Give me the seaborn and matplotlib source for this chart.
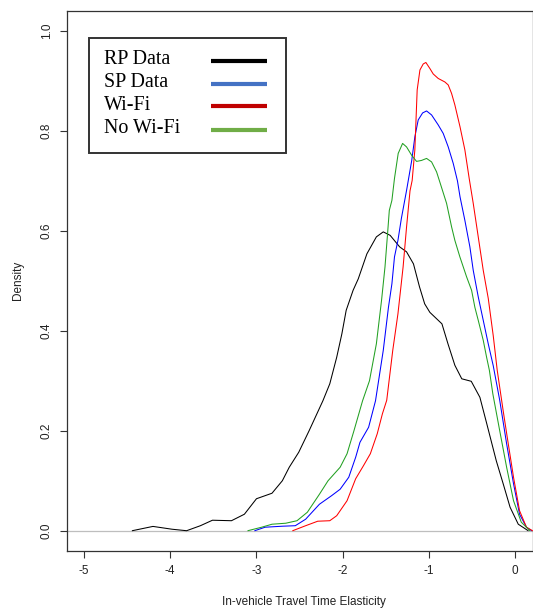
import matplotlib
matplotlib.use("Agg")
import matplotlib.pyplot as plt
import seaborn as sns
import pandas as pd
from matplotlib.patches import Rectangle
from matplotlib.lines import Line2D

# ---------------- data ----------------
rp_x = [-4.44, -4.20, -3.98, -3.81, -3.65, -3.51, -3.29, -3.14, -3.00, -2.82, -2.70, -2.62,
        -2.51, -2.39, -2.23, -2.15, -2.07, -2.01, -1.96, -1.88, -1.82, -1.72, -1.61, -1.53,
        -1.45, -1.34, -1.26, -1.18, -1.11, -1.05, -0.99, -0.85, -0.78, -0.70, -0.62, -0.51,
        -0.41, -0.33, -0.22, -0.14, -0.06, 0.035, 0.15]
rp_y = [0.0, 0.0086, 0.003, 0.0, 0.010, 0.021, 0.020, 0.033, 0.064, 0.075, 0.100, 0.127,
        0.157, 0.200, 0.260, 0.294, 0.347, 0.394, 0.441, 0.481, 0.504, 0.554, 0.588, 0.598,
        0.591, 0.568, 0.558, 0.534, 0.488, 0.454, 0.437, 0.414, 0.374, 0.331, 0.304, 0.299,
        0.267, 0.214, 0.140, 0.094, 0.047, 0.013, 0.0]

sp_x = [-3.02, -2.90, -2.70, -2.55, -2.43, -2.27, -2.13, -2.03, -1.93, -1.85, -1.80, -1.70,
        -1.62, -1.53, -1.47, -1.43, -1.40, -1.36, -1.32, -1.26, -1.20, -1.164, -1.125, -1.074,
        -1.028, -0.97, -0.893, -0.835, -0.777, -0.719, -0.67, -0.64, -0.584, -0.526, -0.487,
        -0.429, -0.371, -0.313, -0.255, -0.18, -0.10, -0.02, 0.05, 0.13, 0.19]
sp_y = [0.0, 0.007, 0.009, 0.010, 0.023, 0.053, 0.070, 0.083, 0.107, 0.147, 0.177, 0.207,
        0.260, 0.361, 0.447, 0.494, 0.548, 0.581, 0.625, 0.681, 0.741, 0.788, 0.822, 0.836,
        0.840, 0.832, 0.812, 0.795, 0.768, 0.735, 0.700, 0.668, 0.621, 0.568, 0.521,
        0.468, 0.421, 0.374, 0.330, 0.261, 0.174, 0.094, 0.033, 0.007, 0.0]

wifi_x = [-2.58, -2.43, -2.29, -2.15, -2.07, -1.95, -1.85, -1.76, -1.68, -1.60, -1.54, -1.49,
          -1.42, -1.36, -1.30, -1.26, -1.22, -1.195, -1.164, -1.137, -1.105, -1.067, -1.036,
          -0.99, -0.951, -0.893, -0.816, -0.777, -0.738, -0.70, -0.64, -0.584, -0.534, -0.487,
          -0.429, -0.371, -0.313, -0.255, -0.209, -0.14, -0.10, -0.02, 0.05, 0.13, 0.20]
wifi_y = [0.0, 0.010, 0.019, 0.020, 0.030, 0.060, 0.104, 0.130, 0.154, 0.194, 0.234, 0.261,
          0.361, 0.434, 0.528, 0.608, 0.680, 0.701, 0.762, 0.882, 0.922, 0.934, 0.937,
          0.925, 0.914, 0.905, 0.898, 0.892, 0.875, 0.852, 0.808, 0.762, 0.705, 0.655,
          0.588, 0.521, 0.465, 0.390, 0.321, 0.240, 0.195, 0.107, 0.040, 0.007, 0.0]

nowifi_x = [-3.10, -2.94, -2.82, -2.66, -2.53, -2.41, -2.27, -2.17, -2.03, -1.95, -1.87, -1.77,
            -1.69, -1.61, -1.55, -1.51, -1.48, -1.46, -1.43, -1.40, -1.357, -1.306, -1.26,
            -1.20, -1.144, -1.086, -1.028, -0.97, -0.912, -0.873, -0.796, -0.738, -0.70,
            -0.642, -0.564, -0.506, -0.468, -0.429, -0.371, -0.332, -0.30, -0.26, -0.18,
            -0.10, -0.02, 0.07, 0.17]
nowifi_y = [0.0, 0.007, 0.013, 0.015, 0.020, 0.037, 0.073, 0.100, 0.127, 0.154, 0.200, 0.260,
            0.300, 0.374, 0.461, 0.528, 0.595, 0.641, 0.661, 0.705, 0.755, 0.775, 0.768,
            0.751, 0.739, 0.741, 0.745, 0.738, 0.718, 0.697, 0.655, 0.608, 0.581,
            0.548, 0.508, 0.481, 0.447, 0.421, 0.381, 0.347, 0.321, 0.274, 0.200,
            0.127, 0.060, 0.017, 0.0]

series_names = ["RP Data", "SP Data", "Wi-Fi", "No Wi-Fi"]
curve_colors = ["#000000", "#0000FF", "#FF0000", "#22A022"]
legend_colors = ["#000000", "#4472C4", "#C00000", "#70AD47"]
x_ticks = [-5, -4, -3, -2, -1, 0]
y_ticks = [0.0, 0.2, 0.4, 0.6, 0.8, 1.0]
x_label = "In-vehicle Travel Time Elasticity"
y_label = "Density"

# ---------------- build table ----------------
frames = []
for name, xs, ys in zip(series_names, [rp_x, sp_x, wifi_x, nowifi_x],
                        [rp_y, sp_y, wifi_y, nowifi_y]):
    frames.append(pd.DataFrame({"x": xs, "y": ys, "series": name}))
df = pd.concat(frames, ignore_index=True)

# ---------------- figure ----------------
sns.set_style("white")
plt.rcParams["font.family"] = ["Liberation Sans", "DejaVu Sans"]
plt.rcParams["axes.unicode_minus"] = False

W, H = 533, 609
fig = plt.figure(figsize=(W / 100, H / 100), dpi=100)
ax_l, ax_r, ax_t, ax_b = 66.7, 532.5, 11.0, 550.7
ax = fig.add_axes([ax_l / W, 1 - ax_b / H, (ax_r - ax_l) / W, (ax_b - ax_t) / H])

ax.axhline(0, color="#BEBEBE", lw=0.9, zorder=1)

sns.lineplot(data=df, x="x", y="y", hue="series", hue_order=series_names,
             palette=dict(zip(series_names, curve_colors)), estimator=None,
             sort=False, lw=0.75, legend=False, ax=ax, zorder=3)

ax.set_xlim(-5.2, 0.2)
ax.set_ylim(-0.04, 1.04)
ax.set_xticks(x_ticks)
ax.set_xticklabels([str(t) for t in x_ticks])
ax.set_yticks(y_ticks)
ax.set_yticklabels([f"{t:.1f}" for t in y_ticks], rotation=90, va="center")

for sp in ax.spines.values():
    sp.set_visible(True)
    sp.set_color("#333333")
    sp.set_linewidth(0.9)

ax.tick_params(axis="both", which="major", length=5, width=0.8, color="#333333",
               labelsize=8.5, labelcolor="#222222", bottom=True, left=True)
ax.tick_params(axis="x", pad=5)
ax.tick_params(axis="y", pad=5)

ax.set_xlabel(x_label, fontsize=8.5, color="#222222")
ax.set_ylabel(y_label, fontsize=8.5, color="#222222")
ax.xaxis.set_label_coords((303.5 - ax_l) / (ax_r - ax_l), (ax_b - 602) / (ax_b - ax_t))
ax.xaxis.label.set_va("center")
ax.yaxis.set_label_coords((18 - ax_l) / (ax_r - ax_l), 0.5)
ax.yaxis.label.set_va("center")

# ---------------- legend (drawn like the pasted box) ----------------
def fp(x, y):
    return (x / W, 1 - y / H)

box_x0, box_y0, box_x1, box_y1 = 88.7, 37.7, 285.7, 152.7
fig.patches.append(Rectangle(fp(box_x0, box_y1), (box_x1 - box_x0) / W,
                             (box_y1 - box_y0) / H, transform=fig.transFigure,
                             facecolor="white", edgecolor="#333333", lw=1.4, zorder=10))
for i, (name, col) in enumerate(zip(series_names, legend_colors)):
    base = 64.3 + 23.0 * i
    fig.text(*fp(104.3, base), name, family=["Liberation Serif", "DejaVu Serif"],
             fontsize=14.4, color="#000000", va="baseline", ha="left", zorder=11)
    fig.lines.append(Line2D([211 / W, 266.5 / W], [1 - (base - 3.8) / H] * 2,
                            transform=fig.transFigure, color=col, lw=3.0,
                            solid_capstyle="butt", zorder=11))

fig.savefig("out.png", dpi=100)
